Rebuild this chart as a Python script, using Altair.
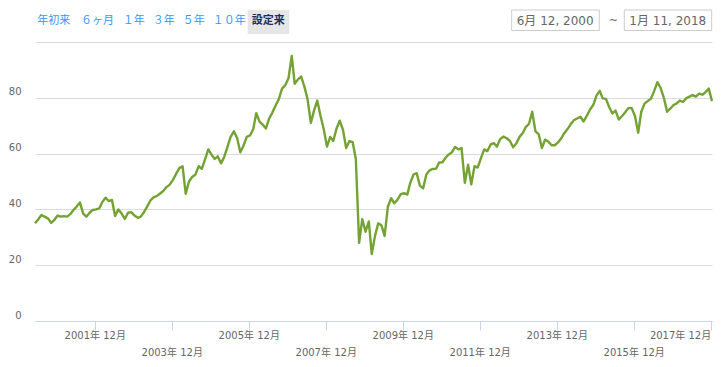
import altair as alt
import pandas as pd

# ---- data (monthly samples, 2000-06-12 .. 2018-01-12) ----
start_date = "2000-06-12"
prices = [
    35.0, 36.4, 38.0, 37.4, 36.8, 35.2, 36.2, 37.8, 37.4, 37.6,
    37.4, 38.3, 39.8, 41.0, 42.5, 38.5, 37.4, 38.8, 39.8, 40.0,
    40.4, 42.6, 44.2, 43.0, 43.4, 37.6, 40.0, 38.5, 36.6, 38.8,
    39.0, 37.8, 37.0, 37.4, 39.0, 41.0, 43.2, 44.3, 44.8, 45.7,
    46.6, 48.0, 48.9, 50.6, 52.8, 54.8, 55.5, 45.6, 50.0, 51.6,
    52.5, 55.5, 54.5, 58.0, 61.5, 59.6, 58.1, 59.0, 56.5, 58.8,
    62.4, 66.0, 68.0, 65.5, 60.5, 62.9, 66.0, 66.5, 68.8, 74.5,
    71.5, 70.4, 69.0, 72.5, 74.7, 77.2, 79.5, 83.3, 84.5, 87.0,
    95.0, 85.0, 86.6, 87.6, 84.0, 79.5, 71.0, 75.5, 79.0, 73.5,
    68.8, 62.5, 66.0, 64.5, 69.0, 71.8, 68.5, 62.0, 64.5, 64.1,
    58.0, 28.0, 36.5, 32.0, 35.7, 24.0, 30.5, 35.0, 34.3, 30.5,
    41.0, 44.0, 42.2, 43.5, 45.5, 45.8, 45.3, 49.5, 52.5, 53.0,
    48.5, 47.5, 52.5, 54.0, 54.5, 54.6, 56.8, 56.9, 58.6, 59.7,
    60.5, 62.4, 61.5, 62.0, 49.5, 56.0, 49.0, 55.5, 55.0, 58.4,
    61.5, 60.9, 63.2, 63.8, 62.5, 65.2, 66.1, 65.5, 64.6, 62.3,
    63.6, 66.0, 67.4, 69.5, 70.7, 75.0, 68.0, 67.0, 62.0, 65.0,
    64.3, 63.0, 63.0, 64.0, 65.5, 67.3, 68.8, 70.5, 72.0, 72.6,
    73.2, 71.5, 73.5, 75.8, 77.4, 80.8, 82.5, 79.8, 79.6, 76.7,
    74.4, 75.4, 72.2, 73.5, 74.8, 76.4, 76.3, 73.5, 67.5, 75.0,
    77.9, 78.8, 79.7, 82.4, 85.6, 83.5, 80.0, 75.0, 76.1, 77.4,
    78.0, 79.0, 78.5, 79.8, 80.4, 81.0, 80.4, 81.5, 81.1, 82.0,
    83.3, 78.8,
]
tick_years = [2001, 2003, 2005, 2007, 2009, 2011, 2013, 2015, 2017]
y_ticks = [0, 20, 40, 60, 80, 100]
range_buttons = ["年初来", "６ヶ月", "１年", "３年", "５年", "１０年"]
selected_button = "設定来"
date_from = "6月 12, 2000"
date_to = "1月 11, 2018"

dates = pd.date_range(start_date, periods=len(prices), freq=pd.DateOffset(months=1))
df = pd.DataFrame({"date": dates, "price": prices})

LABEL_FONT = "DejaVu Sans, Noto Sans CJK JP"
CJK_FONT = "Noto Sans CJK JP"

x_axis = alt.Axis(
    values=[alt.DateTime(year=y, month=12, date=31) for y in tick_years],
    labelExpr="year(datum.value) % 4 == 1 ? year(datum.value) + '年 12月' : ['', year(datum.value) + '年 12月']",
    grid=False,
    domainColor="#ccd6eb",
    tickColor="#ccd6eb",
    tickSize=9,
    labelPadding=0,
    labelColor="#666666",
    labelFont=LABEL_FONT,
    labelFontSize=10,
    labelBaseline="top",
    labelLineHeight=17,
    labelOverlap=False,
    labelFlush=8,
    labelFlushOffset=0,
    labelBound=False,
    title=None,
)
y_axis = alt.Axis(
    values=y_ticks,
    labelExpr="datum.value == 100 ? '' : datum.label",
    domain=False,
    ticks=False,
    tickSize=0,
    grid=True,
    gridColor="#dcdcdc",
    gridWidth=1,
    labelAlign="right",
    labelBaseline="middle",
    labelPadding=14,
    labelOffset=-6,
    labelColor="#666666",
    labelFont=LABEL_FONT,
    labelFontSize=10,
    title=None,
)

line = alt.Chart(df).mark_line(color="#74a233", strokeWidth=2.4, strokeJoin="round").encode(
    x=alt.X("date:T",
            scale=alt.Scale(domain=[alt.DateTime(year=2000, month=6, date=12),
                                    alt.DateTime(year=2018, month=1, date=12)], nice=False),
            axis=x_axis),
    y=alt.Y("price:Q", scale=alt.Scale(domain=[0, 100], nice=False, zero=True), axis=y_axis),
)

layers = [line]

# range-selector buttons
button_x = [2.3, 46, 87.7, 117.7, 147.7, 177.7]
for lab, bx in zip(range_buttons, button_x):
    layers.append(
        alt.Chart(pd.DataFrame({"t": [lab]})).mark_text(
            align="left", baseline="middle", font=CJK_FONT, fontSize=11, color="#3399ff"
        ).encode(x=alt.value(bx), y=alt.value(-21), text="t:N")
    )

sel_df = pd.DataFrame({"t": [selected_button]})
layers.append(
    alt.Chart(sel_df).mark_rect(color="#e6e6e6").encode(
        x=alt.value(212.7), x2=alt.value(254.3), y=alt.value(-32), y2=alt.value(-8)
    )
)
layers.append(
    alt.Chart(sel_df).mark_text(
        align="left", baseline="middle", font=CJK_FONT, fontSize=11, fontWeight="bold", color="#1f2d5c"
    ).encode(x=alt.value(216.7), y=alt.value(-21), text="t:N")
)

# date range inputs
for lab, x0, x1 in [(date_from, 476.7, 564.3), (date_to, 589.3, 676.7)]:
    d = pd.DataFrame({"t": [lab]})
    layers.append(
        alt.Chart(d).mark_rect(fill="white", stroke="#cccccc", strokeWidth=1).encode(
            x=alt.value(x0), x2=alt.value(x1), y=alt.value(-32), y2=alt.value(-11.5)
        )
    )
    layers.append(
        alt.Chart(d).mark_text(
            align="left", baseline="middle", font=LABEL_FONT, fontSize=12, color="#666666"
        ).encode(x=alt.value(x0 + 5), y=alt.value(-21.5), text="t:N")
    )
layers.append(
    alt.Chart(pd.DataFrame({"t": ["~"]})).mark_text(
        align="center", baseline="middle", font=LABEL_FONT, fontSize=11, color="#666666"
    ).encode(x=alt.value(578.3), y=alt.value(-21.5), text="t:N")
)

chart = alt.layer(*layers).properties(
    width=677,
    height=279,
    padding={"left": 27, "top": 34, "right": 8, "bottom": 36},
    autosize=alt.AutoSizeParams(type="none"),
).configure_view(strokeWidth=0)

chart.save("out.html", embed_options={"renderer": "svg", "actions": False})
